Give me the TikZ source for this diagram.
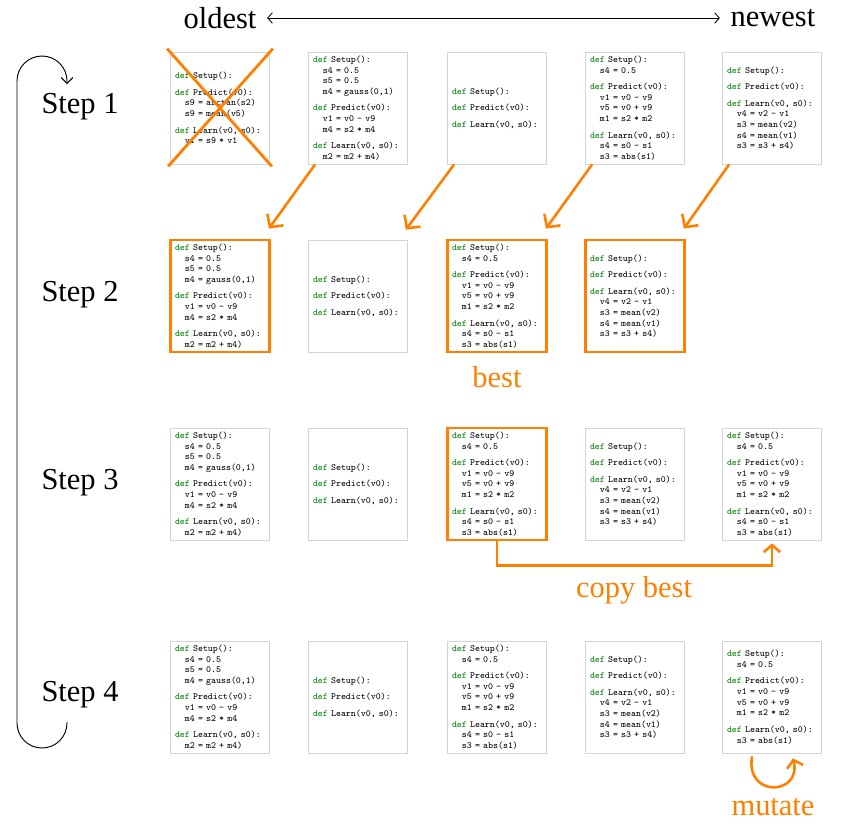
\documentclass[tikz,border=0pt]{standalone}
\usepackage{fontspec}
\setmainfont{Liberation Serif}
\usetikzlibrary{arrows.meta,calc}

\definecolor{evoorange}{RGB}{255,127,0}
\definecolor{defgreen}{RGB}{0,128,0}
\definecolor{boxgray}{RGB}{212,212,212}

% code snippets
\newcommand{\kw}{\textcolor{defgreen}{def}}
\newcommand{\ind}{\phantom{xx}}
\newcommand{\blockgap}{\\[5pt]}

\newcommand{\codeOld}{\kw{} Setup():\blockgap
\kw{} Predict(v0):\\\ind s9 = arctan(s2)\\\ind s9 = mean(v5)\blockgap
\kw{} Learn(v0, s0):\\\ind v1 = s9 * v1}
\newcommand{\codeGauss}{\kw{} Setup():\\\ind s4 = 0.5\\\ind s5 = 0.5\\\ind m4 = gauss(0,1)\blockgap
\kw{} Predict(v0):\\\ind v1 = v0 - v9\\\ind m4 = s2 * m4\blockgap
\kw{} Learn(v0, s0):\\\ind m2 = m2 + m4)}
\newcommand{\codeEmpty}{\kw{} Setup():\blockgap
\kw{} Predict(v0):\blockgap
\kw{} Learn(v0, s0):}
\newcommand{\codeBest}{\kw{} Setup():\\\ind s4 = 0.5\blockgap
\kw{} Predict(v0):\\\ind v1 = v0 - v9\\\ind v5 = v0 + v9\\\ind m1 = s2 * m2\blockgap
\kw{} Learn(v0, s0):\\\ind s4 = s0 - s1\\\ind s3 = abs(s1)}
\newcommand{\codeMean}{\kw{} Setup():\blockgap
\kw{} Predict(v0):\blockgap
\kw{} Learn(v0, s0):\\\ind v4 = v2 - v1\\\ind s3 = mean(v2)\\\ind s4 = mean(v1)\\\ind s3 = s3 + s4)}
\newcommand{\codeMutated}{\kw{} Setup():\\\ind s4 = 0.5\blockgap
\kw{} Predict(v0):\\\ind v1 = v0 - v9\\\ind v5 = v0 + v9\\\ind m1 = s2 * m2\blockgap
\kw{} Learn(v0, s0):\\\ind s3 = abs(s1)}

\begin{document}
\begin{tikzpicture}[x=0.03cm,y=-0.03cm,
    prog/.style={draw=boxgray, line width=0.6pt, minimum width=2.97cm, minimum height=3.36cm,
      text width=2.7cm, inner xsep=0.135cm, inner ysep=0pt, align=left,
      font=\ttfamily\fontsize{8}{9.1}\selectfont},
    bestprog/.style={prog, draw=evoorange, line width=2.4pt},
    biglabel/.style={font=\fontsize{26}{30}\selectfont},
    orangelabel/.style={biglabel, text=evoorange},
    evoarrow/.style={evoorange, line width=2.2pt, -{Straight Barb[length=6pt,width=14pt]}}]
    % Frame
    \useasboundingbox (0,0) rectangle (852,827);
    % Age axis
    \node[biglabel] (oldest) at (220,18) {oldest};
    \node[biglabel] (newest) at (773,18) {newest};
    \draw[line width=0.7pt, shorten <=0.2cm, shorten >=0.2cm, {Straight Barb[length=4pt,width=9pt]}-{Straight Barb[length=4pt,width=9pt]}] (oldest) -- (newest);
    % Step labels
    \foreach \i/\y in {1/107,2/295,3/483,4/695}
        \node[biglabel] (step\i) at (80,\y) {Step \i};
    % Loop back
    \coordinate (loopstart) at (67,722);
    \coordinate (loopend) at (67,84);
    \draw[line width=0.8pt, rounded corners=0.75cm, -{Straight Barb[length=5pt,width=10pt]}] (loopstart) -- (67,748) -- (17,748) -- (17,56) -- (67,56) -- (loopend);
    % Step 1
    \node[prog] (r1c1) at (220,108) {\codeOld};
    \node[prog] (r1c2) at (358,108) {\codeGauss};
    \node[prog] (r1c3) at (497,108) {\codeEmpty};
    \node[prog] (r1c4) at (635,108) {\codeBest};
    \node[prog] (r1c5) at (772,108) {\codeMean};
    \draw[evoorange, line width=2.4pt] ($(r1c1.north west)+(-3,-3)$) -- ($(r1c1.south east)+(2,2)$);
    \draw[evoorange, line width=2.4pt] ($(r1c1.north east)+(3,-3)$) -- ($(r1c1.south west)+(-2,2)$);
    % Step 2
    \node[bestprog] (r2c1) at (220,296) {\codeGauss};
    \node[prog] (r2c2) at (358,296) {\codeEmpty};
    \node[bestprog] (r2c3) at (497,296) {\codeBest};
    \node[bestprog] (r2c4) at (635,296) {\codeMean};
    \node[orangelabel] (best) at (497,377) {best};
    \foreach \s/\t in {r1c2/r2c1,r1c3/r2c2,r1c4/r2c3,r1c5/r2c4}
        \draw[evoarrow, -{Straight Barb[length=8pt,width=17pt]}] ($(\s.south west)+(7,0)$) -- ($(\t.north east)+(-2,-10)$);
    % Step 3
    \node[prog] (r3c1) at (220,484) {\codeGauss};
    \node[prog] (r3c2) at (358,484) {\codeEmpty};
    \node[bestprog] (r3c3) at (497,484) {\codeBest};
    \node[prog] (r3c4) at (635,484) {\codeMean};
    \node[prog] (r3c5) at (772,484) {\codeBest};
    \draw[evoarrow] (r3c3.south) -- ++(0,24) -| ($(r3c5.south)+(0,3)$);
    \node[orangelabel] (copy) at (634,590) {copy best};
    % Step 4
    \node[prog] (r4c1) at (220,697) {\codeGauss};
    \node[prog] (r4c2) at (358,697) {\codeEmpty};
    \node[prog] (r4c3) at (497,697) {\codeBest};
    \node[prog] (r4c4) at (635,697) {\codeMean};
    \node[prog] (r4c5) at (772,697) {\codeMutated};
    \draw[evoarrow] ($(r4c5.south)+(-20,3)$) .. controls ($(r4c5.south)+(-27,45)$) and ($(r4c5.south)+(30,42)$) .. ($(r4c5.south)+(21,5)$);
    \node[orangelabel] (mutate) at (773,807) {mutate};
\end{tikzpicture}
\end{document}
